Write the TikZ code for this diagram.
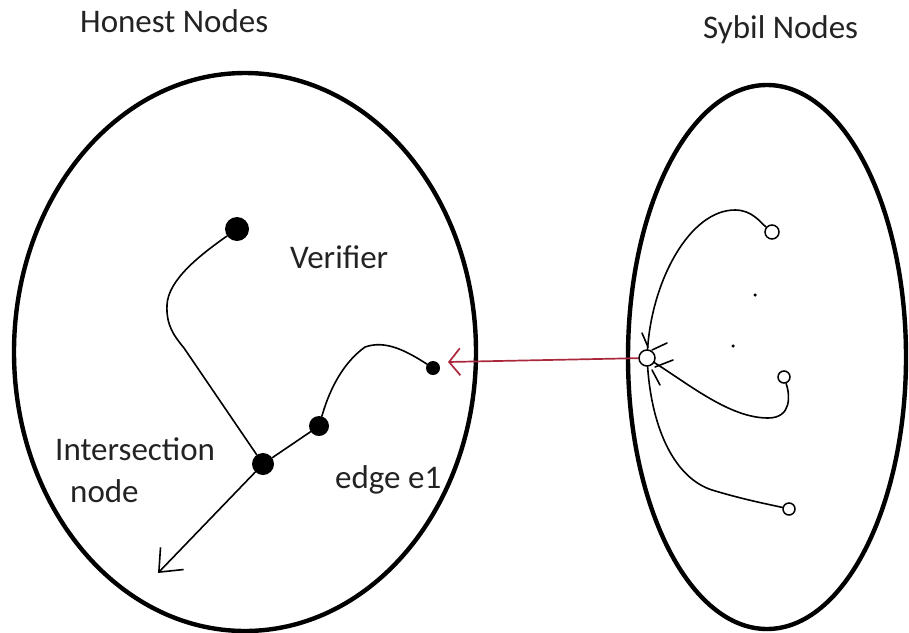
\documentclass[tikz,border=0pt]{standalone}
\usepackage{fontspec}
\setmainfont{Carlito}
\usetikzlibrary{arrows.meta,shapes.geometric}
\definecolor{sybred}{RGB}{170,40,60}
\definecolor{txtgray}{RGB}{35,35,35}
\begin{document}
\begin{tikzpicture}[x=1pt,y=-1pt,
  region/.style={draw, ellipse, line width=4.4pt, minimum width=#1, inner sep=0pt, outer sep=0pt},
  dotnode/.style={circle, fill=black, inner sep=0pt, minimum size=#1},
  hollow/.style={circle, draw=black, line width=1.5pt, fill=white, inner sep=0pt, minimum size=#1},
  speck/.style={circle, fill=black, inner sep=0pt, minimum size=3.5pt},
  wire/.style={line width=1.6pt, line cap=round, line join=round},
  redwire/.style={line width=1.7pt, draw=sybred},
  lbl/.style={anchor=base west, inner sep=0pt, text=txtgray, font=\fontsize{33}{40}\selectfont}]
\useasboundingbox (0,0) rectangle (909,632);

% regions
\node[region=462pt, minimum height=558pt] (H) at (245,352) {};
\node[region=278pt, minimum height=544pt] (S) at (767,357) {};

% labels
\node[lbl] (honest) at (80,32) {Honest Nodes};
\node[lbl] (sybil) at (703,38) {Sybil Nodes};
\node[lbl] (verif) at (290,268) {Verifier};
\node[lbl] (inter) at (55,460) {Intersection};
\node[lbl] (nodel) at (70,502) {node};
\node[lbl] (edgel) at (335,488) {edge e1};

% honest nodes
\node[dotnode=24pt] (v) at (237,229) {};
\node[dotnode=22pt] (i) at (263,464) {};
\node[dotnode=20pt] (m) at (319,426) {};
\node[dotnode=14pt] (e) at (433,368) {};

% sybil nodes
\node[hollow=16pt] (s) at (647,358) {};
\node[hollow=14pt] (s1) at (772,232) {};
\node[hollow=12pt] (s2) at (784,377) {};
\node[hollow=12pt] (s3) at (789,509) {};
\node[speck] (d1) at (755,295) {};
\node[speck] (d2) at (733,346) {};

\coordinate (atip) at (158,573);
\coordinate (rtip) at (448,362);

% honest edges
\draw[wire] (v) .. controls (200,255) and (168,280) .. (167,305)
  .. controls (166,325) and (174,336) .. (184,348) -- (i);
\draw[wire] (i) -- (m);
\draw[wire] (m) .. controls (328,395) and (340,365) .. (365,347)
  .. controls (385,340) and (405,350) .. (e);
\draw[wire, -{Straight Barb[length=19pt,width=32pt]}] (i) -- (atip);

% attack edge
\draw[redwire, -{Straight Barb[length=11pt,width=27pt]}] (s) -- (rtip);

% sybil edges
\draw[wire] (s) .. controls (652,280) and (690,210) .. (735,210)
  .. controls (752,210) and (760,222) .. (s1);
\draw[wire] (s) .. controls (690,385) and (730,418) .. (768,418)
  .. controls (792,418) and (790,395) .. (s2);
\draw[wire] (s) .. controls (652,430) and (675,478) .. (712,490)
  .. controls (745,500) and (772,505) .. (s3);

% spikes around the sybil hub
\draw[wire] ([shift={(-5,-25)}]s.center) -- ([shift={(1,-11)}]s.center);
\draw[wire] ([shift={(20,-15)}]s.center) -- ([shift={(5,-8)}]s.center);
\draw[wire] ([shift={(26,2)}]s.center) -- ([shift={(8,9)}]s.center);
\draw[wire] ([shift={(13,27)}]s.center) -- ([shift={(5,12)}]s.center);
\end{tikzpicture}
\end{document}
